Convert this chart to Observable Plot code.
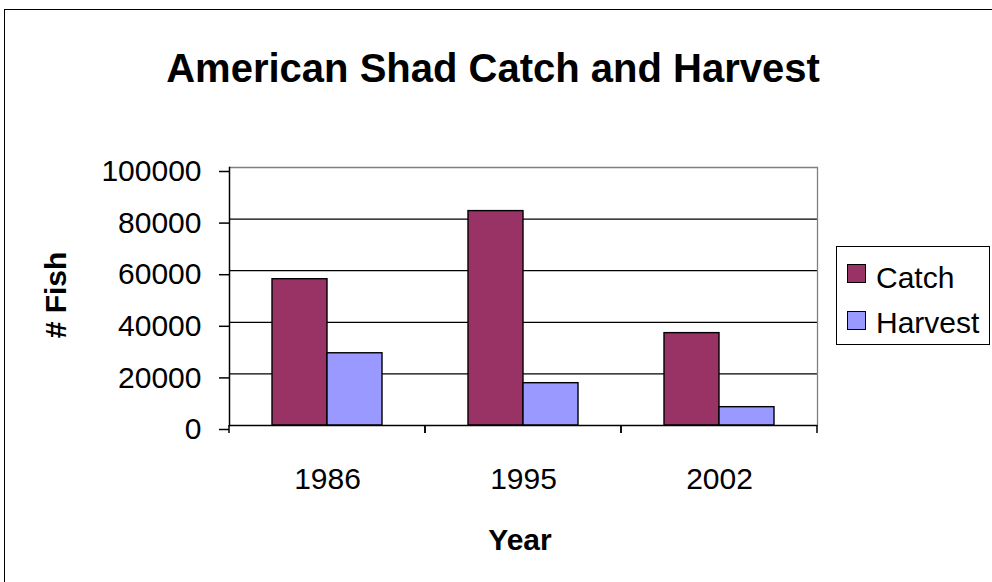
<!DOCTYPE html>
<html>
<head>
<meta charset="utf-8">
<script src="https://cdn.jsdelivr.net/npm/d3@7"></script>
<script src="https://cdn.jsdelivr.net/npm/@observablehq/plot@0.6"></script>
<style>
  html, body { margin: 0; padding: 0; background: #fff; }
  #wrap { position: relative; width: 992px; height: 582px; overflow: hidden; font-family: "Liberation Sans", Arial, sans-serif; color: #000; }
  #border { position: absolute; left: 4px; top: 9px; width: 1100px; height: 700px; border-left: 1.5px solid #000; border-top: 1.5px solid #000; }
  #chart { position: absolute; left: 0; top: 0; }
  #title { position: absolute; left: 0; width: 986px; top: 48px; text-align: center; font-weight: bold; font-size: 40px; line-height: 40px; white-space: nowrap; }
  #xtitle { position: absolute; left: 420px; width: 200px; top: 525px; text-align: center; font-weight: bold; font-size: 30px; line-height: 30px; }
  #ytitle { position: absolute; left: -44px; width: 200px; top: 280px; height: 30px; text-align: center; font-weight: bold; font-size: 30px; line-height: 30px; transform: rotate(-90deg); white-space: nowrap; }
  #legend { position: absolute; left: 836px; top: 246px; width: 154px; height: 99px; box-sizing: border-box; border: 1.5px solid #000; background: #fff; }
  .sw { position: absolute; left: 10px; width: 19px; height: 19px; box-sizing: border-box; border: 1.5px solid #000; }
  .lt { position: absolute; left: 39px; font-size: 30px; line-height: 30px; white-space: nowrap; }
</style>
</head>
<body>
<div id="wrap">
  <div id="border"></div>
  <div id="chart"></div>
  <div id="title">American Shad Catch and Harvest</div>
  <div id="xtitle">Year</div>
  <div id="ytitle"># Fish</div>
  <div id="legend"></div>
</div>
<script>
const years = ["1986", "1995", "2002"];
const seriesNames = ["Catch", "Harvest"];
const catchValues = [56700, 83100, 35800];
const harvestValues = [28000, 16400, 7100];
const seriesColors = ["#993366", "#9999FF"];
const yTicks = [0, 20000, 40000, 60000, 80000, 100000];
const gridValues = [20000, 40000, 60000, 80000];

const rows = [];
years.forEach((yr, i) => {
  rows.push({year: yr, series: seriesNames[0], value: catchValues[i]});
  rows.push({year: yr, series: seriesNames[1], value: harvestValues[i]});
});

// tick marks at the edges of each year group (category boundaries)
function facetEdgeTicks(index, scales, values, dims) {
  const g = d3.create("svg:g").attr("stroke", "black").attr("stroke-width", 1.5);
  const y0 = dims.height - dims.marginBottom;
  for (const x of [dims.marginLeft, dims.width - dims.marginRight]) {
    g.append("line").attr("x1", x).attr("x2", x).attr("y1", y0).attr("y2", y0 + 8);
  }
  return g.node();
}

const chart = Plot.plot({
  width: 992,
  height: 582,
  marginLeft: 228,
  marginRight: 175,
  marginTop: 167,
  marginBottom: 157,
  style: {fontFamily: "Liberation Sans, Arial, sans-serif", fontSize: "30px", color: "black", background: "transparent"},
  fx: {domain: years, padding: 0},
  x: {domain: seriesNames, paddingInner: 0, paddingOuter: 0.753, axis: null},
  y: {domain: [0, 100000]},
  color: {domain: seriesNames, range: seriesColors},
  marks: [
    Plot.ruleY(gridValues, {stroke: "black", strokeWidth: 1.3}),
    Plot.ruleY([100000], {stroke: "#808080", strokeWidth: 1.3}),
    Plot.frame({anchor: "right", facetAnchor: "right", stroke: "#808080", strokeWidth: 1.3}),
    Plot.barY(rows, {fx: "year", x: "series", y: "value", fill: "series", stroke: "black", strokeWidth: 1.4}),
    Plot.ruleY([0], {stroke: "black", strokeWidth: 1.5}),
    Plot.frame({anchor: "left", facetAnchor: "left", stroke: "black", strokeWidth: 1.5}),
    facetEdgeTicks,
    Plot.axisY({ticks: yTicks, tickSize: 10, tickPadding: 18, tickFormat: "d", fontSize: 30, dy: 4, label: null, strokeWidth: 1.5}),
    Plot.axisFx({anchor: "bottom", tickSize: 0, tickPadding: 42, fontSize: 30, label: null})
  ]
});
document.getElementById("chart").appendChild(chart);

const legend = document.getElementById("legend");
seriesNames.forEach((name, i) => {
  const sw = document.createElement("div");
  sw.className = "sw";
  sw.style.top = (17 + i * 47) + "px";
  sw.style.background = seriesColors[i];
  legend.appendChild(sw);
  const t = document.createElement("div");
  t.className = "lt";
  t.style.top = (16 + i * 45) + "px";
  t.textContent = name;
  legend.appendChild(t);
});
</script>
</body>
</html>
